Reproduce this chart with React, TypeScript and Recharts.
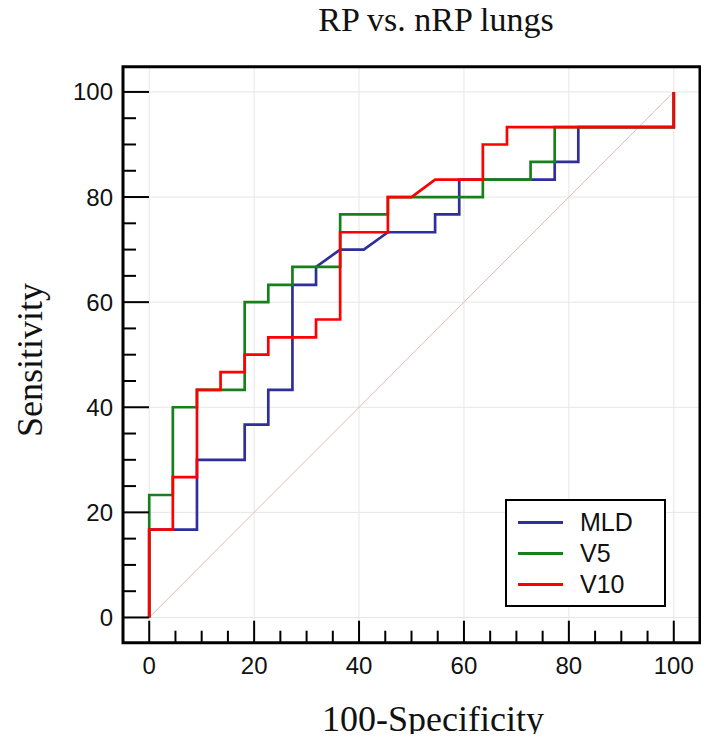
import { LineChart, Line, XAxis, YAxis, CartesianGrid, ReferenceArea, Legend, Label } from "recharts";

// axis ticks (minor every 5, labelled every 20)
const xTicks = [0, 5, 10, 15, 20, 25, 30, 35, 40, 45, 50, 55, 60, 65, 70, 75, 80, 85, 90, 95, 100];
const yTicks = [0, 5, 10, 15, 20, 25, 30, 35, 40, 45, 50, 55, 60, 65, 70, 75, 80, 85, 90, 95, 100];
const gridValues = [0, 20, 40, 60, 80, 100];

// ROC curves: 100-Specificity (x) vs Sensitivity (y)
const mldX = [0, 0, 9.1, 9.1, 18.2, 18.2, 22.7, 22.7, 27.3, 27.3, 31.8, 31.8, 36.4, 40.9, 45.5, 54.5, 54.5, 59.1, 59.1, 77.3, 77.3, 81.8, 81.8, 100, 100];
const mldY = [0, 16.7, 16.7, 30, 30, 36.7, 36.7, 43.3, 43.3, 63.3, 63.3, 66.7, 70, 70, 73.3, 73.3, 76.7, 76.7, 83.3, 83.3, 86.7, 86.7, 93.3, 93.3, 100];

const v5X = [0, 0, 4.5, 4.5, 9.1, 9.1, 18.2, 18.2, 22.7, 22.7, 27.3, 27.3, 36.4, 36.4, 45.5, 45.5, 63.6, 63.6, 72.7, 72.7, 77.3, 77.3, 100, 100];
const v5Y = [0, 23.3, 23.3, 40, 40, 43.3, 43.3, 60, 60, 63.3, 63.3, 66.7, 66.7, 76.7, 76.7, 80, 80, 83.3, 83.3, 86.7, 86.7, 93.3, 93.3, 100];

const v10X = [0, 0, 4.5, 4.5, 9.1, 9.1, 13.6, 13.6, 18.2, 18.2, 22.7, 22.7, 31.8, 31.8, 36.4, 36.4, 45.5, 45.5, 50, 54.5, 63.6, 63.6, 68.2, 68.2, 100, 100];
const v10Y = [0, 16.7, 16.7, 26.7, 26.7, 43.3, 43.3, 46.7, 46.7, 50, 50, 53.3, 53.3, 56.7, 56.7, 73.3, 73.3, 80, 80, 83.3, 83.3, 90, 90, 93.3, 93.3, 100];

const chanceX = [0, 100];
const chanceY = [0, 100];

const toPoints = (xs: number[], ys: number[]) => xs.map((x, i) => ({ x, y: ys[i] }));

const series = [
  { name: "MLD", color: "#2f2f9c", points: toPoints(mldX, mldY) },
  { name: "V5", color: "#17801a", points: toPoints(v5X, v5Y) },
  { name: "V10", color: "#ff0000", points: toPoints(v10X, v10Y) },
];
const seriesOrder = series.map((s) => s.name);

const SANS = '"Liberation Sans", Arial, sans-serif';
const SERIF = '"Liberation Serif", "Times New Roman", serif';

function XTick(props: any) {
  const { x, y, payload } = props;
  const major = payload.value % 20 === 0;
  return (
    <g>
      <line x1={x} x2={x} y1={y} y2={y - (major ? 22 : 12)} stroke="#000" strokeWidth={2} />
      {major && (
        <text x={x} y={y + 31} textAnchor="middle" fontSize={24} fontFamily={SANS} fill="#111">
          {payload.value}
        </text>
      )}
    </g>
  );
}

function YTick(props: any) {
  const { x, y, payload } = props;
  const major = payload.value % 20 === 0;
  return (
    <g>
      <line x1={x} x2={x + (major ? 26 : 13)} y1={y} y2={y} stroke="#000" strokeWidth={2} />
      {major && (
        <text x={x - 10} y={y + 8.5} textAnchor="end" fontSize={24} fontFamily={SANS} fill="#111">
          {payload.value}
        </text>
      )}
    </g>
  );
}

function LegendBox({ payload }: any) {
  const items = (payload || [])
    .filter((p: any) => p.type !== "none")
    .sort((a: any, b: any) => seriesOrder.indexOf(a.value) - seriesOrder.indexOf(b.value));
  return (
    <div
      style={{
        boxSizing: "border-box",
        width: 161,
        height: 108,
        border: "2px solid #000",
        background: "#fff",
        padding: "6px 0 0 11px",
        fontFamily: SANS,
        fontSize: 25,
        color: "#111",
      }}
    >
      {items.map((it: any) => (
        <div key={it.value} style={{ display: "flex", alignItems: "center", height: 30.7 }}>
          <span style={{ display: "inline-block", width: 45, height: 3, background: it.color }} />
          <span style={{ marginLeft: 17, lineHeight: 1 }}>{it.value}</span>
        </div>
      ))}
    </div>
  );
}

export default function App() {
  return (
    <div style={{ margin: -8, width: 709, height: 742 }}>
      <LineChart width={709} height={742} margin={{ top: 66.7, right: 9, bottom: 39.3, left: 63 }}>
        <CartesianGrid
          stroke="#e6e6e6"
          strokeWidth={1}
          verticalValues={gridValues}
          horizontalValues={gridValues}
        />
        <XAxis
          dataKey="x"
          type="number"
          domain={[-5, 105]}
          ticks={xTicks}
          interval={0}
          allowDataOverflow
          tickLine={false}
          axisLine={false}
          tickSize={0}
          tickMargin={0}
          tick={XTick}
          height={60}
        >
          <Label
            content={(p: any) => {
              const vb = p.viewBox || {};
              return (
                <text x={vb.x + vb.width / 2 + 21.5} y={vb.y + 88} textAnchor="middle" fontSize={36} fontFamily={SERIF} fill="#111">
                  100-Specificity
                </text>
              );
            }}
          />
        </XAxis>
        <YAxis
          dataKey="y"
          type="number"
          domain={[-4.8, 104.8]}
          ticks={yTicks}
          interval={0}
          allowDataOverflow
          tickLine={false}
          axisLine={false}
          tickSize={0}
          tickMargin={0}
          tick={YTick}
          width={60}
        >
          <Label
            content={(p: any) => {
              const vb = p.viewBox || {};
              const cx = vb.x - 21;
              const cy = vb.y + vb.height / 2 + 5.3;
              return (
                <text x={cx} y={cy} transform={`rotate(-90, ${cx}, ${cy})`} textAnchor="middle" fontSize={36} fontFamily={SERIF} fill="#111">
                  Sensitivity
                </text>
              );
            }}
          />
        </YAxis>
        <Line
          data={toPoints(chanceX, chanceY)}
          dataKey="y"
          stroke="#dcbcbc"
          strokeWidth={1}
          dot={false}
          activeDot={false}
          legendType="none"
          isAnimationActive={false}
        />
        {series.map((s) => (
          <Line
            key={s.name}
            name={s.name}
            data={s.points}
            dataKey="y"
            type="linear"
            stroke={s.color}
            strokeWidth={2.7}
            dot={false}
            activeDot={false}
            isAnimationActive={false}
          />
        ))}
        <ReferenceArea x1={-5} x2={105} y1={-4.8} y2={104.8} fill="none" stroke="#000" strokeWidth={3} fillOpacity={0}>
          <Label
            content={(p: any) => {
              const vb = p.viewBox || {};
              return (
                <text x={vb.x + vb.width / 2 + 24.5} y={vb.y - 36} textAnchor="middle" fontSize={34} fontFamily={SERIF} fill="#111">
                  RP vs. nRP lungs
                </text>
              );
            }}
          />
        </ReferenceArea>
        <Legend
          layout="vertical"
          align="center"
          verticalAlign="middle"
          content={LegendBox}
          wrapperStyle={{ left: 505, top: 499.3, width: 161, height: 108 }}
        />
      </LineChart>
    </div>
  );
}
